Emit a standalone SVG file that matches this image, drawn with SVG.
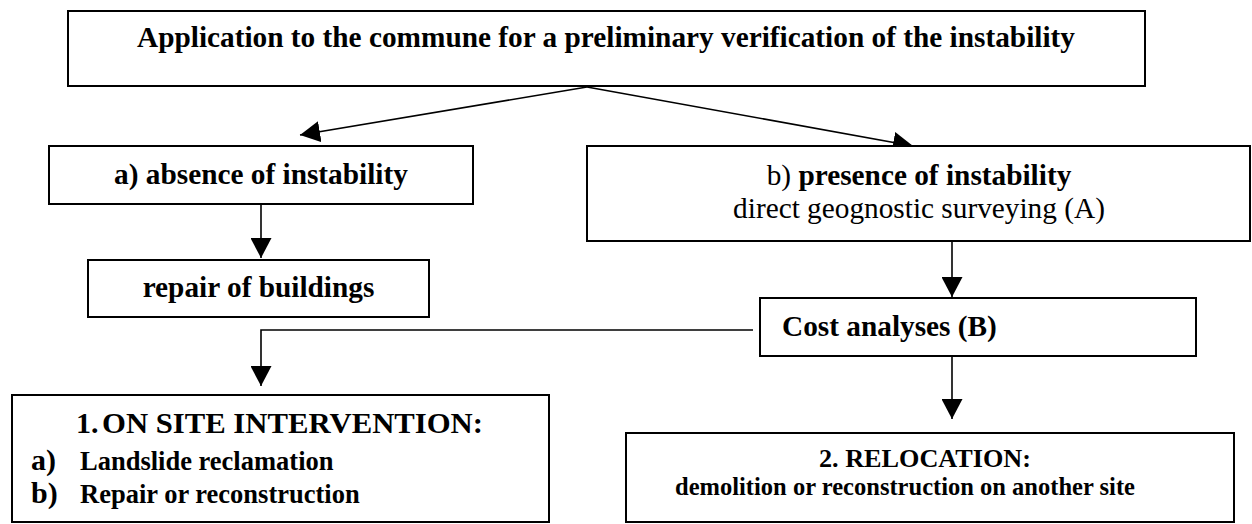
<svg xmlns="http://www.w3.org/2000/svg" width="1252" height="524" viewBox="0 0 1252 524">
<style>
.box{fill:#fff;stroke:#000;stroke-width:2}
.t{font-family:"Liberation Serif","Times New Roman",serif;fill:#000}
.b{font-weight:bold}
.c{text-anchor:middle}
.ln{fill:none;stroke:#000;stroke-width:1.6}
</style>
<defs>
<marker id="ah" markerUnits="userSpaceOnUse" markerWidth="20" markerHeight="21" refX="20" refY="10.5" orient="auto">
<path d="M0,0 L20,10.5 L0,21 z" fill="#000"/>
</marker>
</defs>
<rect width="1252" height="524" fill="#fff"/>
<g id="connectors">
<polyline class="ln" points="587,87 300,135" marker-end="url(#ah)"/>
<polyline class="ln" points="587,87 913,146" marker-end="url(#ah)"/>
<line class="ln" x1="261" y1="204" x2="261" y2="258" marker-end="url(#ah)"/>
<line class="ln" x1="952" y1="241" x2="952" y2="297" marker-end="url(#ah)"/>
<polyline class="ln" points="753,330 261,330 261,386" marker-end="url(#ah)"/>
<line class="ln" x1="952" y1="356" x2="952" y2="419" marker-end="url(#ah)"/>
</g>
<g id="n-application">
<rect class="box" x="68" y="11" width="1077" height="75"/>
<text class="t b c" x="606" y="47" font-size="29.3">Application to the commune for a preliminary verification of the instability</text>
</g>
<g id="n-absence">
<rect class="box" x="49" y="146" width="424" height="58"/>
<text class="t b c" x="261" y="184" font-size="29.3">a) absence of instability</text>
</g>
<g id="n-presence">
<rect class="box" x="587" y="146" width="663" height="95"/>
<text class="t c" x="919" y="185" font-size="29.3">b) <tspan class="b">presence of instability</tspan></text>
<text class="t c" x="919" y="218" font-size="29.3">direct geognostic surveying (A)</text>
</g>
<g id="n-repair">
<rect class="box" x="88" y="260" width="341" height="57"/>
<text class="t b c" x="258.5" y="297" font-size="29.3">repair of buildings</text>
</g>
<g id="n-cost">
<rect class="box" x="760" y="298" width="436" height="58"/>
<text class="t b" x="782" y="336" font-size="29.3">Cost analyses (B)</text>
</g>
<g id="n-onsite">
<rect class="box" x="12" y="395" width="537" height="127"/>
<text class="t b" x="76" y="433" font-size="30">1.</text>
<text class="t b" x="102" y="433" font-size="30" textLength="381" lengthAdjust="spacingAndGlyphs">ON SITE INTERVENTION:</text>
<text class="t b" x="31" y="470" font-size="30">a)</text>
<text class="t b" x="80" y="470" font-size="26.5">Landslide reclamation</text>
<text class="t b" x="31" y="503" font-size="30">b)</text>
<text class="t b" x="80" y="503" font-size="26.5">Repair or reconstruction</text>
</g>
<g id="n-relocation">
<rect class="box" x="626" y="433" width="608" height="89"/>
<text class="t b c" x="925" y="467" font-size="26" textLength="212" lengthAdjust="spacingAndGlyphs">2. RELOCATION:</text>
<text class="t b c" x="905" y="495" font-size="24.5" textLength="460" lengthAdjust="spacingAndGlyphs">demolition or reconstruction on another site</text>
</g>
</svg>
